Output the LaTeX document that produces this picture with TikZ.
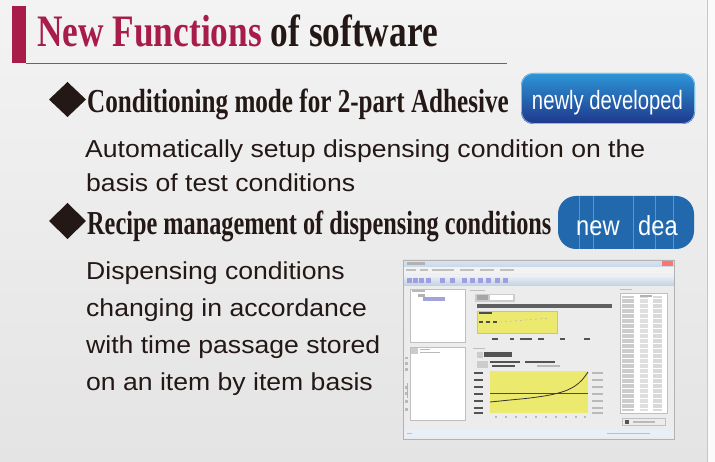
\documentclass[tikz,border=0pt]{standalone}
\usepackage{fontspec}
\setmainfont{Liberation Serif}
\setsansfont{Liberation Sans}
\definecolor{titlered}{RGB}{168,28,74}
\definecolor{ink}{RGB}{35,24,21}
\definecolor{bgtop}{RGB}{243,243,243}
\definecolor{bgbot}{RGB}{228,228,228}
\definecolor{badgetop}{RGB}{45,150,215}
\definecolor{badgebot}{RGB}{30,55,140}
\definecolor{badgeblue}{RGB}{33,104,173}
\definecolor{badgeline}{RGB}{95,145,205}
\definecolor{scryellow}{RGB}{236,234,110}
\definecolor{winblue}{RGB}{200,216,234}
\definecolor{wingray}{RGB}{236,236,236}
\begin{document}
\begin{tikzpicture}[x=1pt,y=-1pt,
  txt/.style={anchor=base west, inner sep=0pt, text=ink},
  heading/.style={txt, font=\fontsize{33.5}{33.5}\selectfont\bfseries},
  body/.style={txt, font=\fontsize{24.5}{24.5}\selectfont\sffamily},
  badgetxt/.style={inner sep=0pt, text=white, font=\fontsize{26.5}{26.5}\selectfont\sffamily},
  bullet/.style={fill=ink},
  scr/.style={draw=gray!50, line width=0.3pt},
]
\useasboundingbox (0,0) rectangle (715,462);
% background
\shade[top color=bgtop, bottom color=bgbot] (0,0) rectangle (715,462);
\fill[white!60!bgtop] (707,0) rectangle (715,462);
\draw[gray!45, line width=0.6pt] (707,0) -- (707,462);

% title
\fill[titlered] (12,6) rectangle (26,63);
\draw[gray!80!black, line width=0.8pt] (26,63) -- (507,63);
\node[txt, font=\fontsize{45}{45}\selectfont\bfseries] (title) at (37,47)
  {\scalebox{0.785}[1]{\textcolor{titlered}{New Functions} of software}};

% heading 1
\fill[bullet] (49,99.5) -- (67.5,82) -- (86,99.5) -- (67.5,117) -- cycle;
\node[heading] (h1) at (87,113) {\scalebox{0.75}[1]{Conditioning mode for 2-part Adhesive}};
\shade[top color=badgetop, bottom color=badgebot, rounded corners=12pt] (521,73) rectangle (695,124);
\draw[white!40!badgetop, line width=0.6pt, rounded corners=12pt] (521.5,73.5) rectangle (694.5,123.5);
\node[badgetxt, anchor=base] (b1) at (607.5,109.5) {\scalebox{0.765}[1]{newly developed}};

\node[body] (l1) at (85,158) {\scalebox{1.085}[1]{Automatically setup dispensing condition on the}};
\node[body] (l2) at (86,192) {\scalebox{1.085}[1]{basis of test conditions}};

% heading 2
\fill[bullet] (49,221) -- (67.5,203) -- (86,221) -- (67.5,239) -- cycle;
\node[heading] (h2) at (87,235) {\scalebox{0.725}[1]{Recipe management of dispensing conditions}};
\fill[badgeblue, rounded corners=18pt] (558,196) rectangle (694,249);
\foreach \xx in {579,593,633,655,673} \draw[badgeline, line width=0.6pt] (\xx,196) -- (\xx,249);
\node[badgetxt, anchor=base west, font=\fontsize{27.5}{27.5}\selectfont\sffamily] (b2a) at (576,235.5) {\scalebox{0.86}[1]{new}};
\node[badgetxt, anchor=base west, font=\fontsize{27.5}{27.5}\selectfont\sffamily] (b2b) at (638,235.5) {\scalebox{0.86}[1]{dea}};

\node[body] (m1) at (86,280) {\scalebox{1.085}[1]{Dispensing conditions}};
\node[body] (m2) at (86,317) {\scalebox{1.085}[1]{changing in accordance}};
\node[body] (m3) at (86,353) {\scalebox{1.085}[1]{with time passage stored}};
\node[body] (m4) at (86,390) {\scalebox{1.085}[1]{on an item by item basis}};

% screenshot
\begin{scope}
\fill[wingray] (403,260) rectangle (674,439);
\shade[top color=winblue!70!white, bottom color=winblue] (403,260) rectangle (674,267);
\fill[red!55!white] (662,261) rectangle (673,266.5);
\fill[gray!60] (407,262) rectangle (425,265);
\fill[white!90!gray] (403,267) rectangle (674,274);
\foreach \xx/\ww in {406/10,420/8,432/22,460/14,480/14,500/14} \fill[gray!50] (\xx,269.5) rectangle ++(\ww,1.8);
\shade[top color=winblue!40!white, bottom color=winblue!90!gray] (403,276) rectangle (674,286);
\foreach \xx in {407,413,419,426,440,450,462,470,478,486,495,503} \fill[gray!50!blue!50] (\xx,278) rectangle ++(4.5,5);
% left panels
\fill[white] (410,289) rectangle (465,342);
\draw[scr] (410,289) rectangle (465,342);
\fill[gray!55] (412,290.5) rectangle (425,292);
\fill[gray!60] (418,294) rectangle (425,297);
\fill[blue!45!gray!50] (423,297.5) rectangle (445,301);
\fill[white] (410,347) rectangle (465,420);
\draw[scr] (410,347) rectangle (465,420);
\fill[gray!40] (411,348) rectangle (418,354);
\fill[gray!55] (420,349) rectangle (430,350.5);
\fill[gray!55] (420,352) rectangle (440,353.5);
\foreach \yy in {357,362,368,386,392,400,408} \fill[gray!55] (405,\yy) rectangle ++(3,2.5);
\draw[gray!60, line width=0.8pt] (407,383) -- (407,398);
% middle upper
\fill[gray!50] (470,290) rectangle (485,291.5);
\fill[gray!40] (475,294) rectangle (515,302);
\fill[white] (490,295.5) rectangle (513,300.5);
\fill[gray!70] (477,295.5) rectangle (488,300.5);
\fill[gray!75!black] (477,304) rectangle (612,308);
\fill[scryellow] (477,311) rectangle (557,333);
\draw[gray!50, line width=0.3pt] (477,311) rectangle (557,333);
\fill[gray!60!black] (479,312.5) rectangle (492,314);
\foreach \xx in {479,486,493} \fill[gray!60!black] (\xx,321) rectangle ++(4,2.5);
\draw[gray!60, line width=0.4pt, dash pattern=on 2pt off 3pt] (500,322) -- (550,318);
\foreach \xx/\ww in {492/6,510/4,520/12,538/6,560/5,584/6} \fill[gray!65!black] (\xx,338) rectangle ++(\ww,2.5);
% graph area
\fill[gray!50] (473,348) rectangle (485,349.5);
\fill[gray!40] (477,352) rectangle (483,358);
\fill[gray!65!black] (484,352) rectangle (512,357);
\fill[gray!65!black] (490,361) rectangle (520,363);
\fill[gray!65!black] (492,365) rectangle (515,367);
\fill[gray!65!black] (525,361) rectangle (555,363);
\fill[gray!55] (537,365) rectangle (560,367);
\fill[gray!40] (477,361) rectangle (488,368);
\fill[scryellow] (490,371) rectangle (588,413);
\draw[gray!60!black, line width=0.5pt] (490,393) -- (588,393);
\draw[gray!40!black, line width=0.8pt] plot[smooth] coordinates {(490,402) (510,400) (530,398) (550,395) (565,391) (575,386) (582,380) (588,372)};
\foreach \yy in {372,379,386,393,400,407,412} {
  \fill[gray!65!black] (474,\yy) rectangle ++(9,2);
  \fill[gray!55] (592,\yy) rectangle ++(11,2);}
\foreach \xx in {495,505,515,525,535,545,555,565,575,584} \fill[gray!55] (\xx,416) rectangle ++(2,2);
% right table
\fill[gray!50] (620,289) rectangle (632,290.5);
\fill[white] (620,293) rectangle (667,413);
\draw[scr] (620,293) rectangle (667,413);
\fill[gray!40] (622,296) rectangle (634,411);
\fill[gray!25] (640,296) rectangle (648,411);
\fill[gray!30] (653,296) rectangle (662,411);
\foreach \yy in {298,303,...,410} \draw[white, line width=0.5pt] (621,\yy) -- (666,\yy);
\fill[gray!60] (640,295) rectangle (652,297);
\draw[scr] (622,418) rectangle (665,425);
\fill[gray!65!black] (625,419.5) rectangle (629,423.5);
\fill[gray!55] (633,421) rectangle (655,422.5);
% status bar
\fill[winblue!40!white] (403,430) rectangle (674,437);
\fill[gray!50] (407,432.5) rectangle (412,434);
\fill[gray!50] (607,432.5) rectangle (650,434);
\draw[gray!60, line width=0.4pt] (403,260) rectangle (674,439);
\end{scope}
\end{tikzpicture}
\end{document}
